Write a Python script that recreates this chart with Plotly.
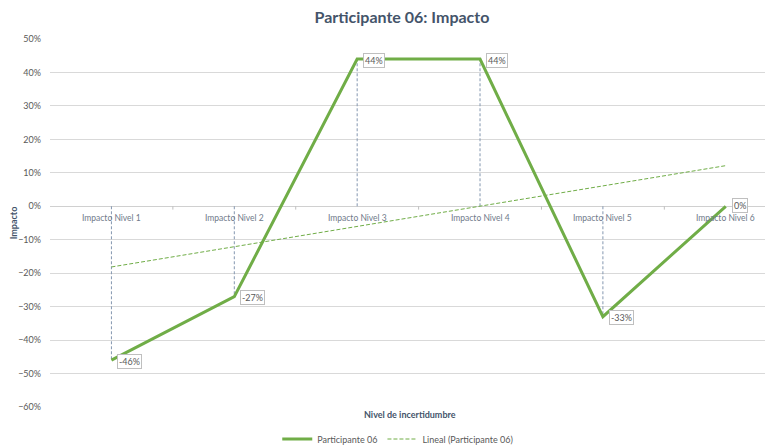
import numpy as np
import plotly.graph_objects as go

categorias = ["Impacto Nivel 1", "Impacto Nivel 2", "Impacto Nivel 3",
              "Impacto Nivel 4", "Impacto Nivel 5", "Impacto Nivel 6"]
impacto = [-0.46, -0.27, 0.44, 0.44, -0.33, 0.0]
y_ticks = [0.5, 0.4, 0.3, 0.2, 0.1, 0.0, -0.1, -0.2, -0.3, -0.4, -0.5, -0.6]

VERDE = "#70AD47"
GRIS = "#595959"
GRIS_CAT = "#6F7A8A"
FUENTE = "Lato"

# la pagina deja 8px de margen: la figura ocupa 765x440
ANCHO, ALTO = 765, 440

xs = list(range(len(categorias)))
pend, inter = np.polyfit(xs, impacto, 1)
tendencia = [pend * x + inter for x in xs]

# lineas de caida desde 0 hasta cada punto
drop_x, drop_y = [], []
for x, v in zip(xs, impacto):
    drop_x += [x, x, None]
    drop_y += [0, v, None]

fig = go.Figure()
fig.add_trace(go.Scatter(x=drop_x, y=drop_y, mode="lines", showlegend=False,
                         hoverinfo="skip",
                         line=dict(color="#8497B0", width=1, dash="3px,2px")))
fig.add_trace(go.Scatter(x=xs, y=impacto, mode="lines", name="Participante 06",
                         line=dict(color=VERDE, width=3)))
fig.add_trace(go.Scatter(x=xs, y=tendencia, mode="lines",
                         name="Lineal (Participante 06)",
                         line=dict(color=VERDE, width=1, dash="4px,2px")))

# etiquetas de datos
for x, v in zip(xs, impacto):
    fig.add_annotation(x=x, y=v, text=f"{v:.0%}", showarrow=False,
                       xanchor="left", yanchor="middle", xshift=6,
                       yshift=-1 if v != 0 else 1,
                       bgcolor="white", bordercolor="#BFBFBF", borderwidth=1,
                       borderpad=1, font=dict(size=9, color=GRIS, family=FUENTE))

# etiquetas de categoria sobre el eje en 0
for x, c in zip(xs, categorias):
    fig.add_annotation(x=x, y=0, text=c, showarrow=False, yanchor="middle",
                       yshift=-12, font=dict(size=8.5, color=GRIS_CAT, family=FUENTE))

# marcas del eje x entre categorias
for x in xs[:-1]:
    fig.add_shape(type="line", x0=x + 0.5, x1=x + 0.5, y0=0, y1=-0.01,
                  line=dict(color="#BFBFBF", width=1))

fig.add_annotation(text="<b>Nivel de incertidumbre</b>", xref="paper", yref="paper",
                   x=0.5, y=0, yshift=-7, yanchor="middle", showarrow=False,
                   font=dict(size=9, color="#44546A", family=FUENTE))

fig.update_layout(
    width=ANCHO, height=ALTO,
    margin=dict(l=42, r=3, t=31, b=41, autoexpand=False),
    paper_bgcolor="white", plot_bgcolor="white",
    font=dict(family=FUENTE, color=GRIS, size=9),
    title=dict(text="<b>Participante 06: Impacto</b>", x=0.515, xanchor="center",
               y=1 - 9 / ALTO, yanchor="middle",
               font=dict(size=16, color="#44546A", family=FUENTE)),
    legend=dict(orientation="h", x=0.483, xanchor="center", y=-32 / 368,
                yanchor="middle", font=dict(size=9, color=GRIS)),
    showlegend=True,
)
fig.update_xaxes(range=[-0.5, 5.36], showticklabels=False, showgrid=False,
                 zeroline=False, showline=False, automargin=False)
fig.update_yaxes(range=[-0.6, 0.5], tickvals=y_ticks, tickformat=".0%",
                 showgrid=True, gridcolor="#D9D9D9", gridwidth=1,
                 zeroline=True, zerolinecolor="#D0D0D0", zerolinewidth=1,
                 ticklabelstandoff=8, automargin=False,
                 title=dict(text="<b>Impacto</b>", standoff=6,
                            font=dict(size=9, color="#44546A")),
                 tickfont=dict(size=9, color=GRIS))

fig.write_html("out.html")
